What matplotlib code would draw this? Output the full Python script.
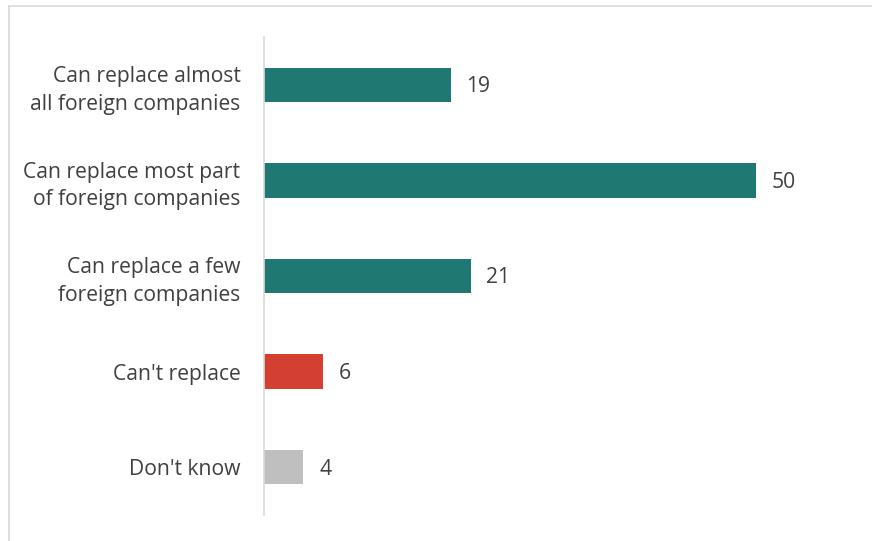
import matplotlib
matplotlib.use("Agg")
import matplotlib.pyplot as plt
from matplotlib.lines import Line2D

categories = ["Can replace almost\nall foreign companies",
              "Can replace most part\nof foreign companies",
              "Can replace a few\nforeign companies",
              "Can't replace",
              "Don't know"]
values = [19, 50, 21, 6, 4]
colors = ["#1F7871", "#1F7871", "#1F7871", "#D33F31", "#BFBFBF"]

plt.rcParams['font.family'] = ['Open Sans', 'DejaVu Sans']
W, H = 872, 541
fig = plt.figure(figsize=(W/100, H/100), dpi=100)
ax = fig.add_axes([264/W, 1-515/H, (854-264)/W, (515-37)/H])

y = list(range(len(categories)))
ax.barh(y, values, height=0.36, color=colors)
ax.set_ylim(4.5, -0.5)
ax.set_xlim(0, 60)
ax.set_yticks(y)
ax.set_yticklabels(categories, fontsize=15.2, color="#404040", ha="right",
                   multialignment="right", linespacing=1.4)
ax.tick_params(axis='y', length=0, pad=17)
ax.set_xticks([])
for s in ["top", "right", "bottom"]:
    ax.spines[s].set_visible(False)
ax.spines["left"].set_color("#D9D9D9")
ax.spines["left"].set_linewidth(1.2)

for yi, v in zip(y, values):
    ax.text(v + 1.6, yi + 0.02, str(v), va="center", ha="left", fontsize=15.2, color="#404040")

# outer border (top and left)
fig.add_artist(Line2D([9/W, 1], [1-6/H, 1-6/H], transform=fig.transFigure, color="#D9D9D9", lw=1.2))
fig.add_artist(Line2D([9/W, 9/W], [0, 1-6/H], transform=fig.transFigure, color="#D9D9D9", lw=1.2))

fig.savefig("out.png", dpi=100)
